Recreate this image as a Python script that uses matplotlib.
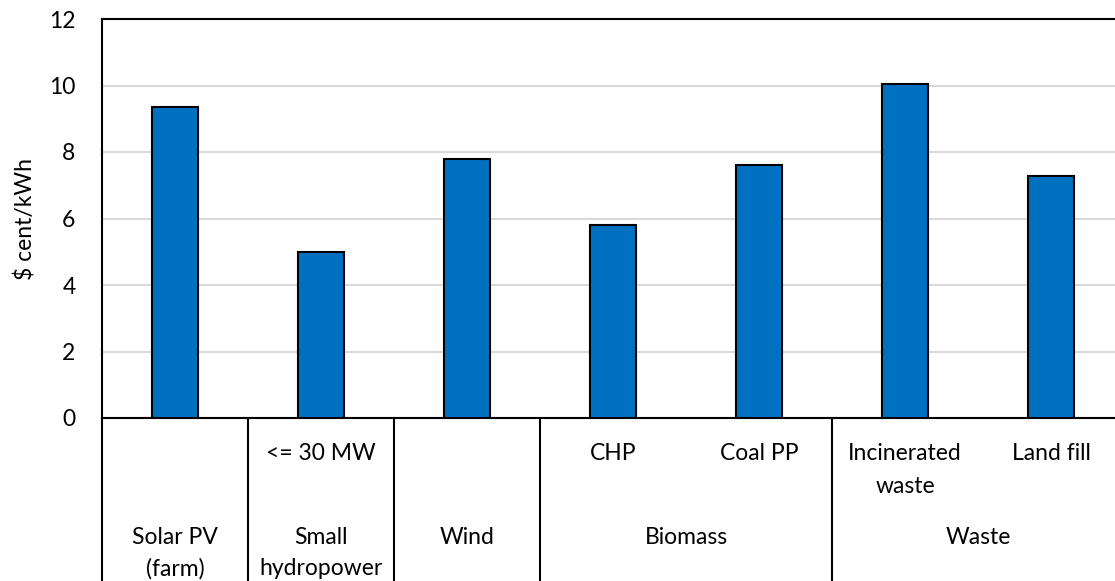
# LCOE by technology - two level category axis

import matplotlib.pyplot as plt
import matplotlib.transforms as mtransforms
import numpy as np

plt.rcParams['font.family'] = ['Lato', 'DejaVu Sans']

sublabels = ['', '<= 30 MW', '', 'CHP', 'Coal PP', 'Incinerated\nwaste', 'Land fill']
groups = ['Solar PV\n(farm)', 'Small\nhydropower', 'Wind', 'Biomass', 'Biomass', 'Waste', 'Waste']
values = [9.35, 5.0, 7.8, 5.8, 7.6, 10.05, 7.28]

fs = 16.5
fig = plt.figure(figsize=(11.15, 5.81), dpi=100)
ax = fig.add_axes([102 / 1115, 163 / 581, 1022 / 1115, 399 / 581])

x = np.arange(len(values))
ax.bar(x, values, width=0.31, color='#0070C0', edgecolor='black', linewidth=1.5, zorder=3)

ax.set_xlim(-0.5, len(values) - 0.5)
ax.set_ylim(0, 12)
ax.set_yticks(np.arange(0, 13, 2))
ax.tick_params(axis='y', length=0, labelsize=fs, pad=19)
ax.tick_params(axis='x', length=0, labelbottom=False)
ax.grid(axis='y', color='#D9D9D9', linewidth=1.5, zorder=0)
ax.set_axisbelow(True)
ax.spines['right'].set_visible(False)
for s in ['left', 'top', 'bottom']:
    ax.spines[s].set_linewidth(1.5)
ax.set_ylabel('$ cent/kWh', fontsize=fs, labelpad=9)

trans = mtransforms.blended_transform_factory(ax.transData, ax.transAxes)

# sub category labels
for i, lab in enumerate(sublabels):
    if lab:
        ax.text(i, -0.062, lab, transform=trans, ha='center', va='top',
                fontsize=fs, linespacing=1.72)

# group labels and separators
bounds = [-0.5]
names = []
i = 0
while i < len(groups):
    j = i
    while j + 1 < len(groups) and groups[j + 1] == groups[i]:
        j += 1
    names.append(((i + j) / 2, groups[i]))
    bounds.append(j + 0.5)
    i = j + 1

for pos, name in names:
    ax.text(pos, -0.273, name, transform=trans, ha='center', va='top',
            fontsize=fs, linespacing=1.6)

for b in bounds[:-1]:
    ax.plot([b, b], [0, -0.45], transform=trans, color='black',
            linewidth=1.5, clip_on=False)

plt.savefig('out.png', dpi=100)
